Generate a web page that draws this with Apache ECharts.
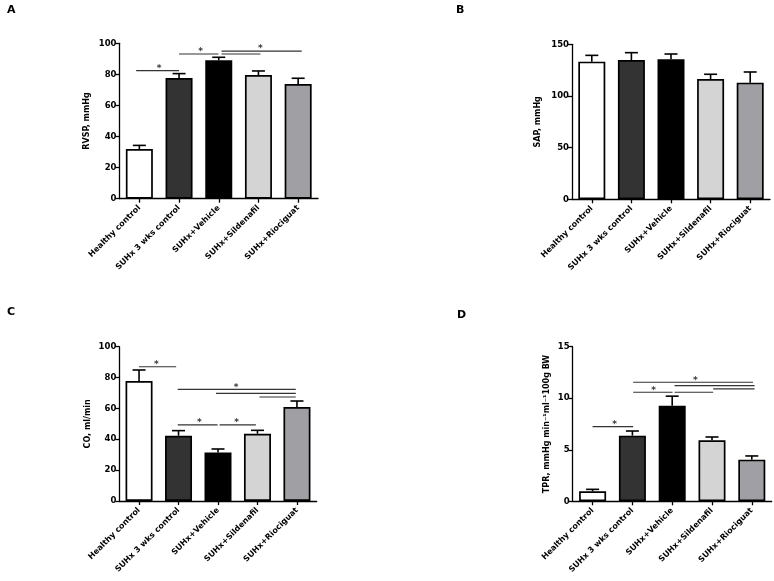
<!DOCTYPE html>
<html><head><meta charset="utf-8">
<script src="https://cdn.jsdelivr.net/npm/echarts@6/dist/echarts.min.js"></script>
<style>html,body{margin:0;padding:0;background:#fff}#c{width:774px;height:581px}</style>
</head><body><div id="c"></div>
<script>
const categories = ['Healthy control','SUHx 3 wks control','SUHx+Vehicle','SUHx+Sildenafil','SUHx+Riociguat'];

const rvspMean = [32.0, 77.7, 89.1, 79.6, 73.8];
const rvspSem  = [2.3, 2.8, 1.9, 2.6, 3.7];
const sapMean  = [133.2, 134.8, 135.5, 116.4, 112.9];
const sapSem   = [6.1, 7.1, 5.1, 4.6, 10.3];
const coMean   = [77.8, 42.3, 31.5, 43.6, 60.9];
const coSem    = [7.1, 3.3, 2.2, 2.2, 3.9];
const tprMean  = [0.97, 6.37, 9.28, 5.92, 4.04];
const tprSem   = [0.19, 0.45, 0.92, 0.32, 0.36];

// significance brackets: [fromIndex, toIndex, yValue]
const rvspSig = [[-0.08, 1.0, 82.4], [1.0, 1.99, 93.1], [2.07, 4.09, 95.0], [2.07, 3.05, 93.1]];
const rvspStars = [[0.5, 82.4], [1.54, 93.1], [3.05, 95.0]];
const sapSig = [];
const sapStars = [];
const coSig = [[0, 0.94, 87.0], [0.98, 3.97, 72.4], [1.95, 3.97, 69.8], [3.05, 3.97, 67.4], [0.98, 1.99, 49.4], [2.04, 2.96, 49.4]];
const coStars = [[0.44, 87.0], [2.46, 72.4], [1.53, 49.4], [2.47, 49.4]];
const tprSig = [[0, 1.02, 7.24], [1.02, 4.03, 11.55], [2.06, 4.07, 11.22], [3.03, 4.07, 10.9], [1.02, 2.01, 10.58], [2.06, 3.03, 10.58]];
const tprStars = [[0.55, 7.24], [2.58, 11.55], [1.53, 10.58]];

const barColors = ['#ffffff', '#333333', '#000000', '#d4d4d4', '#a0a0a4'];
const FONT = 'DejaVu Sans';

const panels = [
  {mean: rvspMean, sem: rvspSem, sig: rvspSig, stars: rvspStars, max: 100, interval: 20, name: 'RVSP, mmHg', nameGap: 29,
   grid: {left: 119.5, top: 43.3, width: 198.5, height: 155.4}},
  {mean: sapMean, sem: sapSem, sig: sapSig, stars: sapStars, max: 150, interval: 50, name: 'SAP, mmHg', nameGap: 30,
   grid: {left: 572, top: 44.3, width: 198, height: 155}},
  {mean: coMean, sem: coSem, sig: coSig, stars: coStars, max: 100, interval: 20, name: 'CO, ml/min', nameGap: 27,
   grid: {left: 119.3, top: 346.7, width: 197.4, height: 154.3}},
  {mean: tprMean, sem: tprSem, sig: tprSig, stars: tprStars, max: 15, interval: 5, name: 'TPR, mmHg min\u207B\u00B9ml\u207B\u00B9100g BW', nameGap: 22,
   grid: {left: 572.7, top: 346.7, width: 199, height: 154.6}}
];

const grid = [], xAxis = [], yAxis = [], series = [];
panels.forEach((p, k) => {
  grid.push(p.grid);
  xAxis.push({
    type: 'category', gridIndex: k, data: categories,
    axisLine: {onZero: false, lineStyle: {color: '#000', width: 1.3}},
    axisTick: {show: true, alignWithLabel: true, length: 4, lineStyle: {color: '#000', width: 1.3}},
    axisLabel: {interval: 0, rotate: 45, color: '#000', fontFamily: FONT, fontWeight: 'bold', fontSize: 8, margin: 8}
  });
  xAxis.push({type: 'value', gridIndex: k, min: -0.5, max: 4.5, show: false});
  yAxis.push({
    type: 'value', gridIndex: k, min: 0, max: p.max, interval: p.interval,
    name: p.name, nameLocation: 'middle', nameGap: p.nameGap,
    nameTextStyle: {color: '#000', fontFamily: FONT, fontWeight: 'bold', fontSize: 8},
    axisLine: {show: true, onZero: false, lineStyle: {color: '#000', width: 1.3}},
    axisTick: {show: true, length: 4, lineStyle: {color: '#000', width: 1.3}},
    axisLabel: {color: '#000', fontFamily: FONT, fontWeight: 'bold', fontSize: 8.5, margin: 3},
    splitLine: {show: false}
  });
  series.push({
    type: 'bar', xAxisIndex: 2 * k, yAxisIndex: k, barWidth: 27,
    data: p.mean.map((v, i) => ({value: v, itemStyle: {color: barColors[i]}})),
    itemStyle: {borderColor: '#000', borderWidth: 1.7},
    animation: false, z: 2
  });
  series.push({
    type: 'custom', xAxisIndex: 2 * k, yAxisIndex: k, z: 3, animation: false,
    data: p.mean.map((v, i) => [i, v, p.sem[i]]),
    renderItem: function (params, api) {
      const x = api.value(0), m = api.value(1), s = api.value(2);
      const p0 = api.coord([x, m]);
      const p1 = api.coord([x, m + s]);
      const hw = 6.5;
      return {type: 'group', children: [
        {type: 'line', shape: {x1: p0[0], y1: p0[1], x2: p1[0], y2: p1[1]}, style: {stroke: '#000', lineWidth: 1.6}},
        {type: 'line', shape: {x1: p1[0] - hw, y1: p1[1], x2: p1[0] + hw, y2: p1[1]}, style: {stroke: '#000', lineWidth: 1.6}}
      ]};
    }
  });
  p.sig.forEach(s => {
    series.push({
      type: 'line', xAxisIndex: 2 * k + 1, yAxisIndex: k, symbol: 'none', animation: false, silent: true,
      data: [[s[0], s[2]], [s[1], s[2]]],
      lineStyle: {color: '#333', width: 1.2}
    });
  });
  if (p.stars.length) {
    series.push({
      type: 'scatter', xAxisIndex: 2 * k + 1, yAxisIndex: k, symbolSize: 1, animation: false, silent: true,
      itemStyle: {color: 'rgba(0,0,0,0)'},
      data: p.stars,
      label: {show: true, formatter: '*', position: 'top', distance: -3, color: '#000', fontFamily: FONT, fontWeight: 'bold', fontSize: 9}
    });
  }
});

const title = [
  {text: 'A', left: 2, top: 0},
  {text: 'B', left: 451, top: 0},
  {text: 'C', left: 2, top: 302},
  {text: 'D', left: 452, top: 305}
].map(t => Object.assign(t, {textStyle: {fontFamily: FONT, fontWeight: 'bold', fontSize: 11, color: '#000'}}));

const chart = echarts.init(document.getElementById('c'), null, {renderer: 'canvas'});
chart.setOption({animation: false, backgroundColor: '#fff', title, grid, xAxis, yAxis, series});
</script>
</body></html>
